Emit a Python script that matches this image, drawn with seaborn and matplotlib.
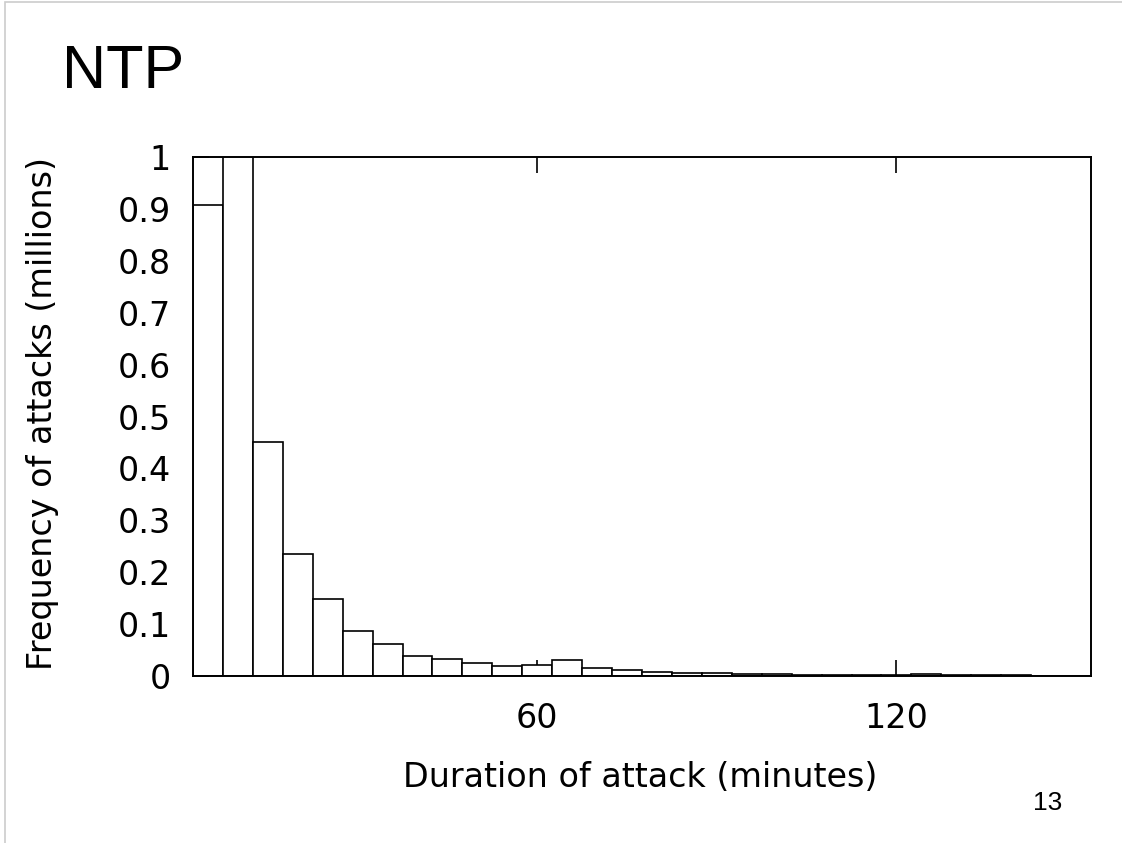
import numpy as np
import pandas as pd
import seaborn as sns
import matplotlib.pyplot as plt
from matplotlib.patches import Rectangle

# duration bins (minutes, bin centres) and attack counts (millions)
minutes = [5, 10, 15, 20, 25, 30, 35, 40, 45, 50,
           55, 60, 65, 70, 75, 80, 85, 90, 95, 100,
           105, 110, 115, 120, 125, 130, 135, 140, 145, 150]
attacks = [0.908, 1.30, 0.451, 0.236, 0.149, 0.087, 0.061, 0.039, 0.032, 0.026,
           0.019, 0.022, 0.030, 0.016, 0.011, 0.007, 0.005, 0.005, 0.003, 0.003,
           0.002, 0.001, 0.001, 0.001, 0.004, 0.002, 0.001, 0.001, 0.0005, 0.0005]
x_ticks = [60, 120]
y_ticks = [0, 0.1, 0.2, 0.3, 0.4, 0.5, 0.6, 0.7, 0.8, 0.9, 1]
y_ticklabels = ['0', '0.1', '0.2', '0.3', '0.4', '0.5', '0.6', '0.7', '0.8', '0.9', '1']

df = pd.DataFrame({'minutes': minutes, 'attacks': attacks})

sns.set_style('white')
plt.rcParams['font.family'] = ['DejaVu Sans']
plt.rcParams['text.color'] = 'black'
plt.rcParams['axes.labelcolor'] = 'black'

fig = plt.figure(figsize=(11.22, 8.43), dpi=100)
ax = fig.add_axes([193 / 1122, 1 - 676 / 843, (1091 - 193) / 1122, (676 - 157) / 843])

sns.histplot(data=df, x='minutes', weights='attacks', binwidth=5, binrange=(2.5, 152.5),
             ax=ax, color='white', edgecolor='black', linewidth=1.2, alpha=1)

ax.set_xlim(2.5, 152.5)
ax.set_ylim(0, 1)
ax.set_xticks(x_ticks)
ax.set_xticklabels([str(t) for t in x_ticks])
ax.set_yticks(y_ticks)
ax.set_yticklabels(y_ticklabels)
ax.tick_params(axis='both', direction='in', length=11.5, width=1.2, labelsize=24,
               colors='black')
ax.tick_params(axis='x', top=True, bottom=True, pad=19)
ax.tick_params(axis='y', left=True, right=False, pad=16)
for s in ax.spines.values():
    s.set_visible(True)
    s.set_color('black')
    s.set_linewidth(1.4)

ax.set_xlabel('Duration of attack (minutes)', fontsize=24)
ax.set_ylabel('Frequency of attacks (millions)', fontsize=24)
ax.xaxis.set_label_coords(0.498, -0.164)
ax.yaxis.set_label_coords(-0.149, 0.505)

# slide decorations
fig.text(62 / 1122, 1 - 88 / 843, 'NTP', fontsize=44, family=['Liberation Sans'],
         ha='left', va='baseline')
fig.text(1062 / 1122, 1 - 810 / 843, '13', fontsize=19, family=['Liberation Sans'],
         ha='right', va='baseline')
fig.add_artist(Rectangle((5 / 1122, -0.1), 1.2, 1 - 2 / 843 + 0.1, transform=fig.transFigure,
                         fill=False, edgecolor='#cccccc', linewidth=1.2))

fig.savefig('out.png', dpi=100)
